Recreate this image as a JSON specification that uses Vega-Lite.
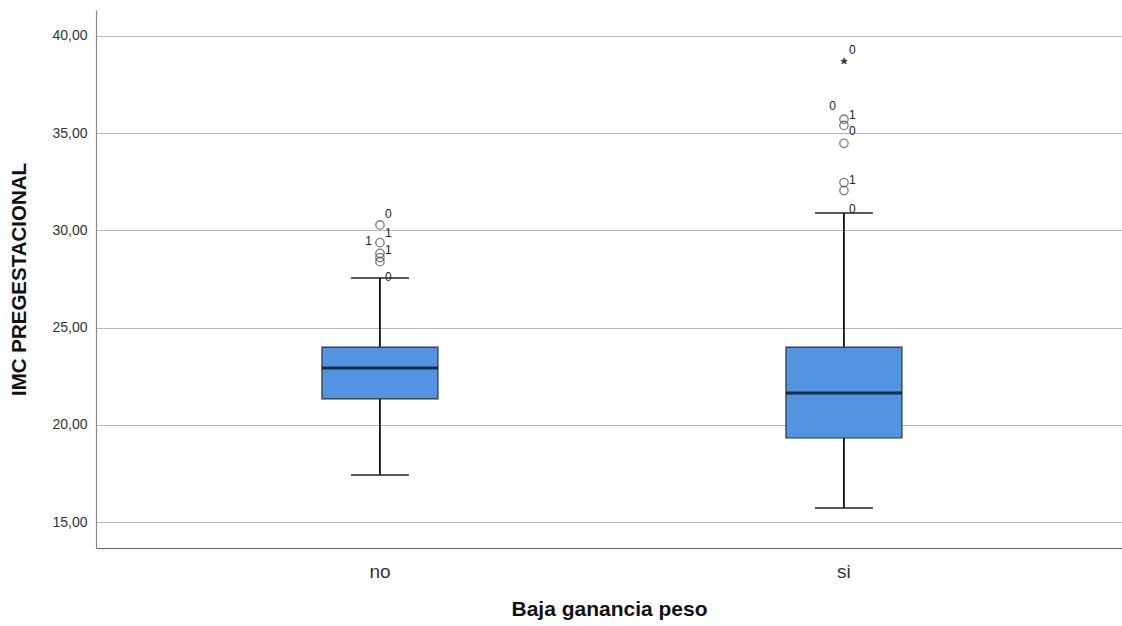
{
  "$schema": "https://vega.github.io/schema/vega-lite/v6.json",
  "width": 1026,
  "height": 538,
  "autosize": "none",
  "padding": {"left": 96, "top": 10, "right": 0, "bottom": 78},
  "background": "white",
  "config": {
    "view": {"stroke": null},
    "font": "Liberation Sans"
  },
  "datasets": {
    "cajas": [
      {"grupo": "no", "minimo": 17.42, "q1": 21.33, "mediana": 22.92, "q3": 24.0, "maximo": 27.55},
      {"grupo": "si", "minimo": 15.72, "q1": 19.32, "mediana": 21.64, "q3": 24.0, "maximo": 30.9}
    ],
    "atipicos": [
      {"grupo": "no", "imc": 30.28, "tipo": "atipico"},
      {"grupo": "no", "imc": 29.37, "tipo": "atipico"},
      {"grupo": "no", "imc": 28.82, "tipo": "atipico"},
      {"grupo": "no", "imc": 28.6, "tipo": "atipico"},
      {"grupo": "no", "imc": 28.39, "tipo": "atipico"},
      {"grupo": "si", "imc": 38.73, "tipo": "extremo"},
      {"grupo": "si", "imc": 35.72, "tipo": "atipico"},
      {"grupo": "si", "imc": 35.4, "tipo": "atipico"},
      {"grupo": "si", "imc": 34.48, "tipo": "atipico"},
      {"grupo": "si", "imc": 32.46, "tipo": "atipico"},
      {"grupo": "si", "imc": 32.05, "tipo": "atipico"}
    ],
    "etiquetas": [
      {"grupo": "no", "imc": 30.84, "texto": "0", "lado": "derecha"},
      {"grupo": "no", "imc": 29.87, "texto": "1", "lado": "derecha"},
      {"grupo": "no", "imc": 29.45, "texto": "1", "lado": "izquierda"},
      {"grupo": "no", "imc": 28.99, "texto": "1", "lado": "derecha"},
      {"grupo": "no", "imc": 27.6, "texto": "0", "lado": "derecha"},
      {"grupo": "si", "imc": 39.28, "texto": "0", "lado": "derecha"},
      {"grupo": "si", "imc": 36.4, "texto": "0", "lado": "izquierda"},
      {"grupo": "si", "imc": 35.94, "texto": "1", "lado": "derecha"},
      {"grupo": "si", "imc": 35.11, "texto": "0", "lado": "derecha"},
      {"grupo": "si", "imc": 32.59, "texto": "1", "lado": "derecha"},
      {"grupo": "si", "imc": 31.1, "texto": "0", "lado": "derecha"}
    ]
  },
  "encoding": {
    "x": {
      "field": "grupo",
      "type": "nominal",
      "scale": {"domain": ["no", "si"], "paddingInner": 0, "paddingOuter": 0.1056, "align": 0.53},
      "axis": {
        "title": "Baja ganancia peso",
        "titleFontSize": 21,
        "titleFontWeight": "bold",
        "titleColor": "#111111",
        "titlePadding": 17,
        "labelFontSize": 19,
        "labelColor": "#333333",
        "labelAngle": 0,
        "labelPadding": 14,
        "ticks": false,
        "domainColor": "#666666",
        "domainWidth": 1.2,
        "grid": false
      }
    }
  },
  "layer": [
    {
      "data": {"name": "cajas"},
      "mark": {"type": "rule", "color": "#111111", "strokeWidth": 1.8},
      "encoding": {
        "y": {
          "field": "minimo",
          "type": "quantitative",
          "scale": {"domain": [13.663, 41.337], "nice": false, "zero": false},
          "axis": {
            "title": "IMC PREGESTACIONAL",
            "titleFontSize": 20.5,
            "titleFontWeight": "bold",
            "titleColor": "#111111",
            "titlePadding": 22,
            "values": [15, 20, 25, 30, 35, 40],
            "labelExpr": "replace(format(datum.value, '.2f'), '.', ',')",
            "labelFontSize": 14,
            "labelColor": "#333333",
            "labelPadding": 9,
            "ticks": false,
            "grid": true,
            "gridColor": "#b8b8b8",
            "gridWidth": 1.2,
            "domainColor": "#888888",
            "domainWidth": 1.2
          }
        },
        "y2": {"field": "q1"}
      }
    },
    {
      "data": {"name": "cajas"},
      "mark": {"type": "rule", "color": "#111111", "strokeWidth": 1.8},
      "encoding": {
        "y": {"field": "q3", "type": "quantitative"},
        "y2": {"field": "maximo"}
      }
    },
    {
      "data": {"name": "cajas"},
      "mark": {"type": "tick", "color": "#111111", "thickness": 2, "size": 58},
      "encoding": {"y": {"field": "minimo", "type": "quantitative"}}
    },
    {
      "data": {"name": "cajas"},
      "mark": {"type": "tick", "color": "#111111", "thickness": 2, "size": 58},
      "encoding": {"y": {"field": "maximo", "type": "quantitative"}}
    },
    {
      "data": {"name": "cajas"},
      "mark": {"type": "bar", "fill": "#5294e2", "stroke": "#333333", "strokeWidth": 1.2, "size": 116},
      "encoding": {
        "y": {"field": "q1", "type": "quantitative"},
        "y2": {"field": "q3"}
      }
    },
    {
      "data": {"name": "cajas"},
      "mark": {"type": "tick", "color": "#000000", "thickness": 3, "size": 116},
      "encoding": {"y": {"field": "mediana", "type": "quantitative"}}
    },
    {
      "data": {"name": "atipicos"},
      "transform": [{"filter": "datum.tipo === 'atipico'"}],
      "mark": {"type": "point", "shape": "circle", "filled": false, "size": 70, "stroke": "#444444", "strokeWidth": 1.3},
      "encoding": {"y": {"field": "imc", "type": "quantitative"}}
    },
    {
      "data": {"name": "atipicos"},
      "transform": [{"filter": "datum.tipo === 'extremo'"}],
      "mark": {"type": "text", "text": "*", "fontSize": 17, "fontWeight": "bold", "color": "#333333", "baseline": "middle", "dy": 4},
      "encoding": {"y": {"field": "imc", "type": "quantitative"}}
    },
    {
      "data": {"name": "etiquetas"},
      "transform": [{"filter": "datum.lado === 'derecha'"}],
      "mark": {"type": "text", "fontSize": 12, "fill": "#222222", "align": "left", "baseline": "middle", "dx": 5},
      "encoding": {
        "y": {"field": "imc", "type": "quantitative"},
        "text": {"field": "texto"}
      }
    },
    {
      "data": {"name": "etiquetas"},
      "transform": [{"filter": "datum.lado === 'izquierda'"}],
      "mark": {"type": "text", "fontSize": 12, "fill": "#222222", "align": "right", "baseline": "middle", "dx": -8},
      "encoding": {
        "y": {"field": "imc", "type": "quantitative"},
        "text": {"field": "texto"}
      }
    }
  ]
}
